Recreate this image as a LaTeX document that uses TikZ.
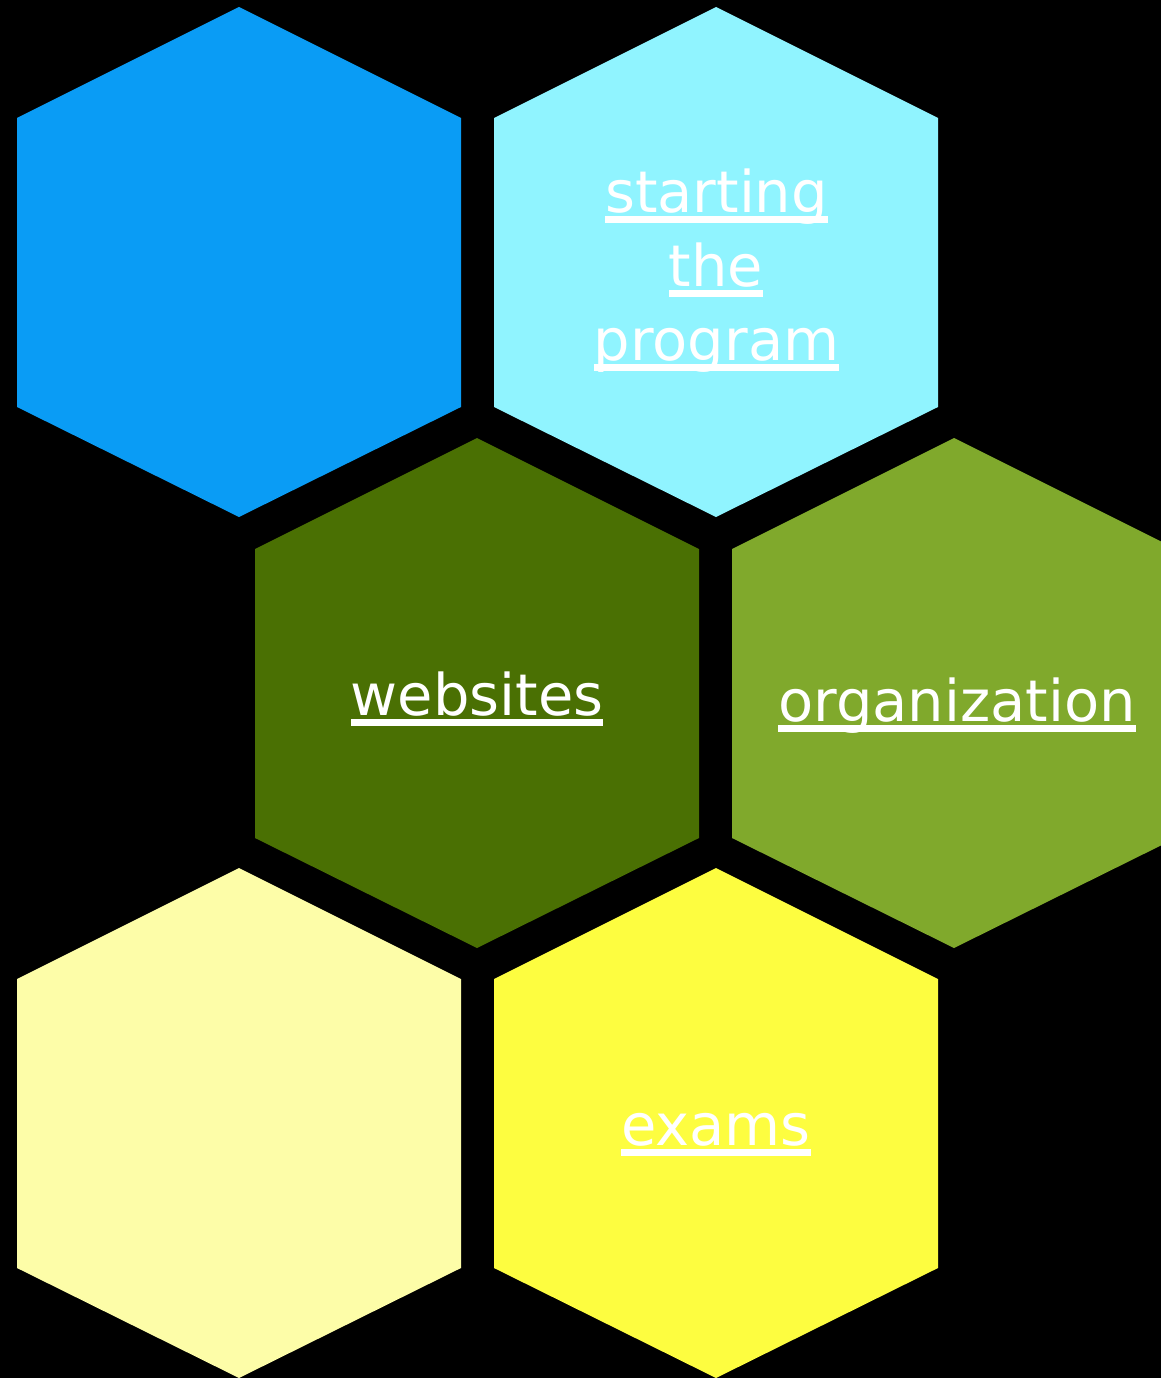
\documentclass[tikz,border=0pt]{standalone}
\usepackage{fontspec}
\setmainfont{DejaVu Sans}
\definecolor{hblue}{HTML}{0A9CF5}
\definecolor{hcyan}{HTML}{90F4FF}
\definecolor{hdgreen}{HTML}{4A7003}
\definecolor{holive}{HTML}{80A92C}
\definecolor{hlyellow}{HTML}{FDFDA8}
\definecolor{hyellow}{HTML}{FDFD40}
\newcommand\hexcell[3]{\fill[#3] (#1,#2) ++(0,-255) -- ++(222,111) -- ++(0,289) -- ++(-222,110) -- ++(-222,-110) -- ++(0,-289) -- cycle;}
\newcommand\ulabel[4]{%
  \node[lbl] (#1) at (#2,#3) {#4};
  \fill[white] ([yshift=-3.5pt]#1.base west) rectangle ([yshift=-10.5pt]#1.base east);}
\tikzset{lbl/.style={anchor=base, inner sep=0pt, outer sep=0pt, text=white, font=\fontsize{57.5}{74}\selectfont}}
\begin{document}
\begin{tikzpicture}[x=1pt,y=-1pt]
\fill[black] (0,0) rectangle (1161,1378);
\useasboundingbox (0,0) rectangle (1161,1378);
\begin{scope}
\clip (0,0) rectangle (1161,1378);
\hexcell{239}{262}{hblue}
\hexcell{716}{262}{hcyan}
\hexcell{477}{693}{hdgreen}
\hexcell{954}{693}{holive}
\hexcell{239}{1123}{hlyellow}
\hexcell{716}{1123}{hyellow}
\end{scope}
\ulabel{l1}{716.5}{212}{starting}
\ulabel{l2}{716}{286}{the}
\ulabel{l3}{716.5}{360}{program}
\ulabel{l4}{477}{715}{websites}
\ulabel{l5}{957}{721}{organization}
\ulabel{l6}{716}{1145}{exams}
\end{tikzpicture}
\end{document}
